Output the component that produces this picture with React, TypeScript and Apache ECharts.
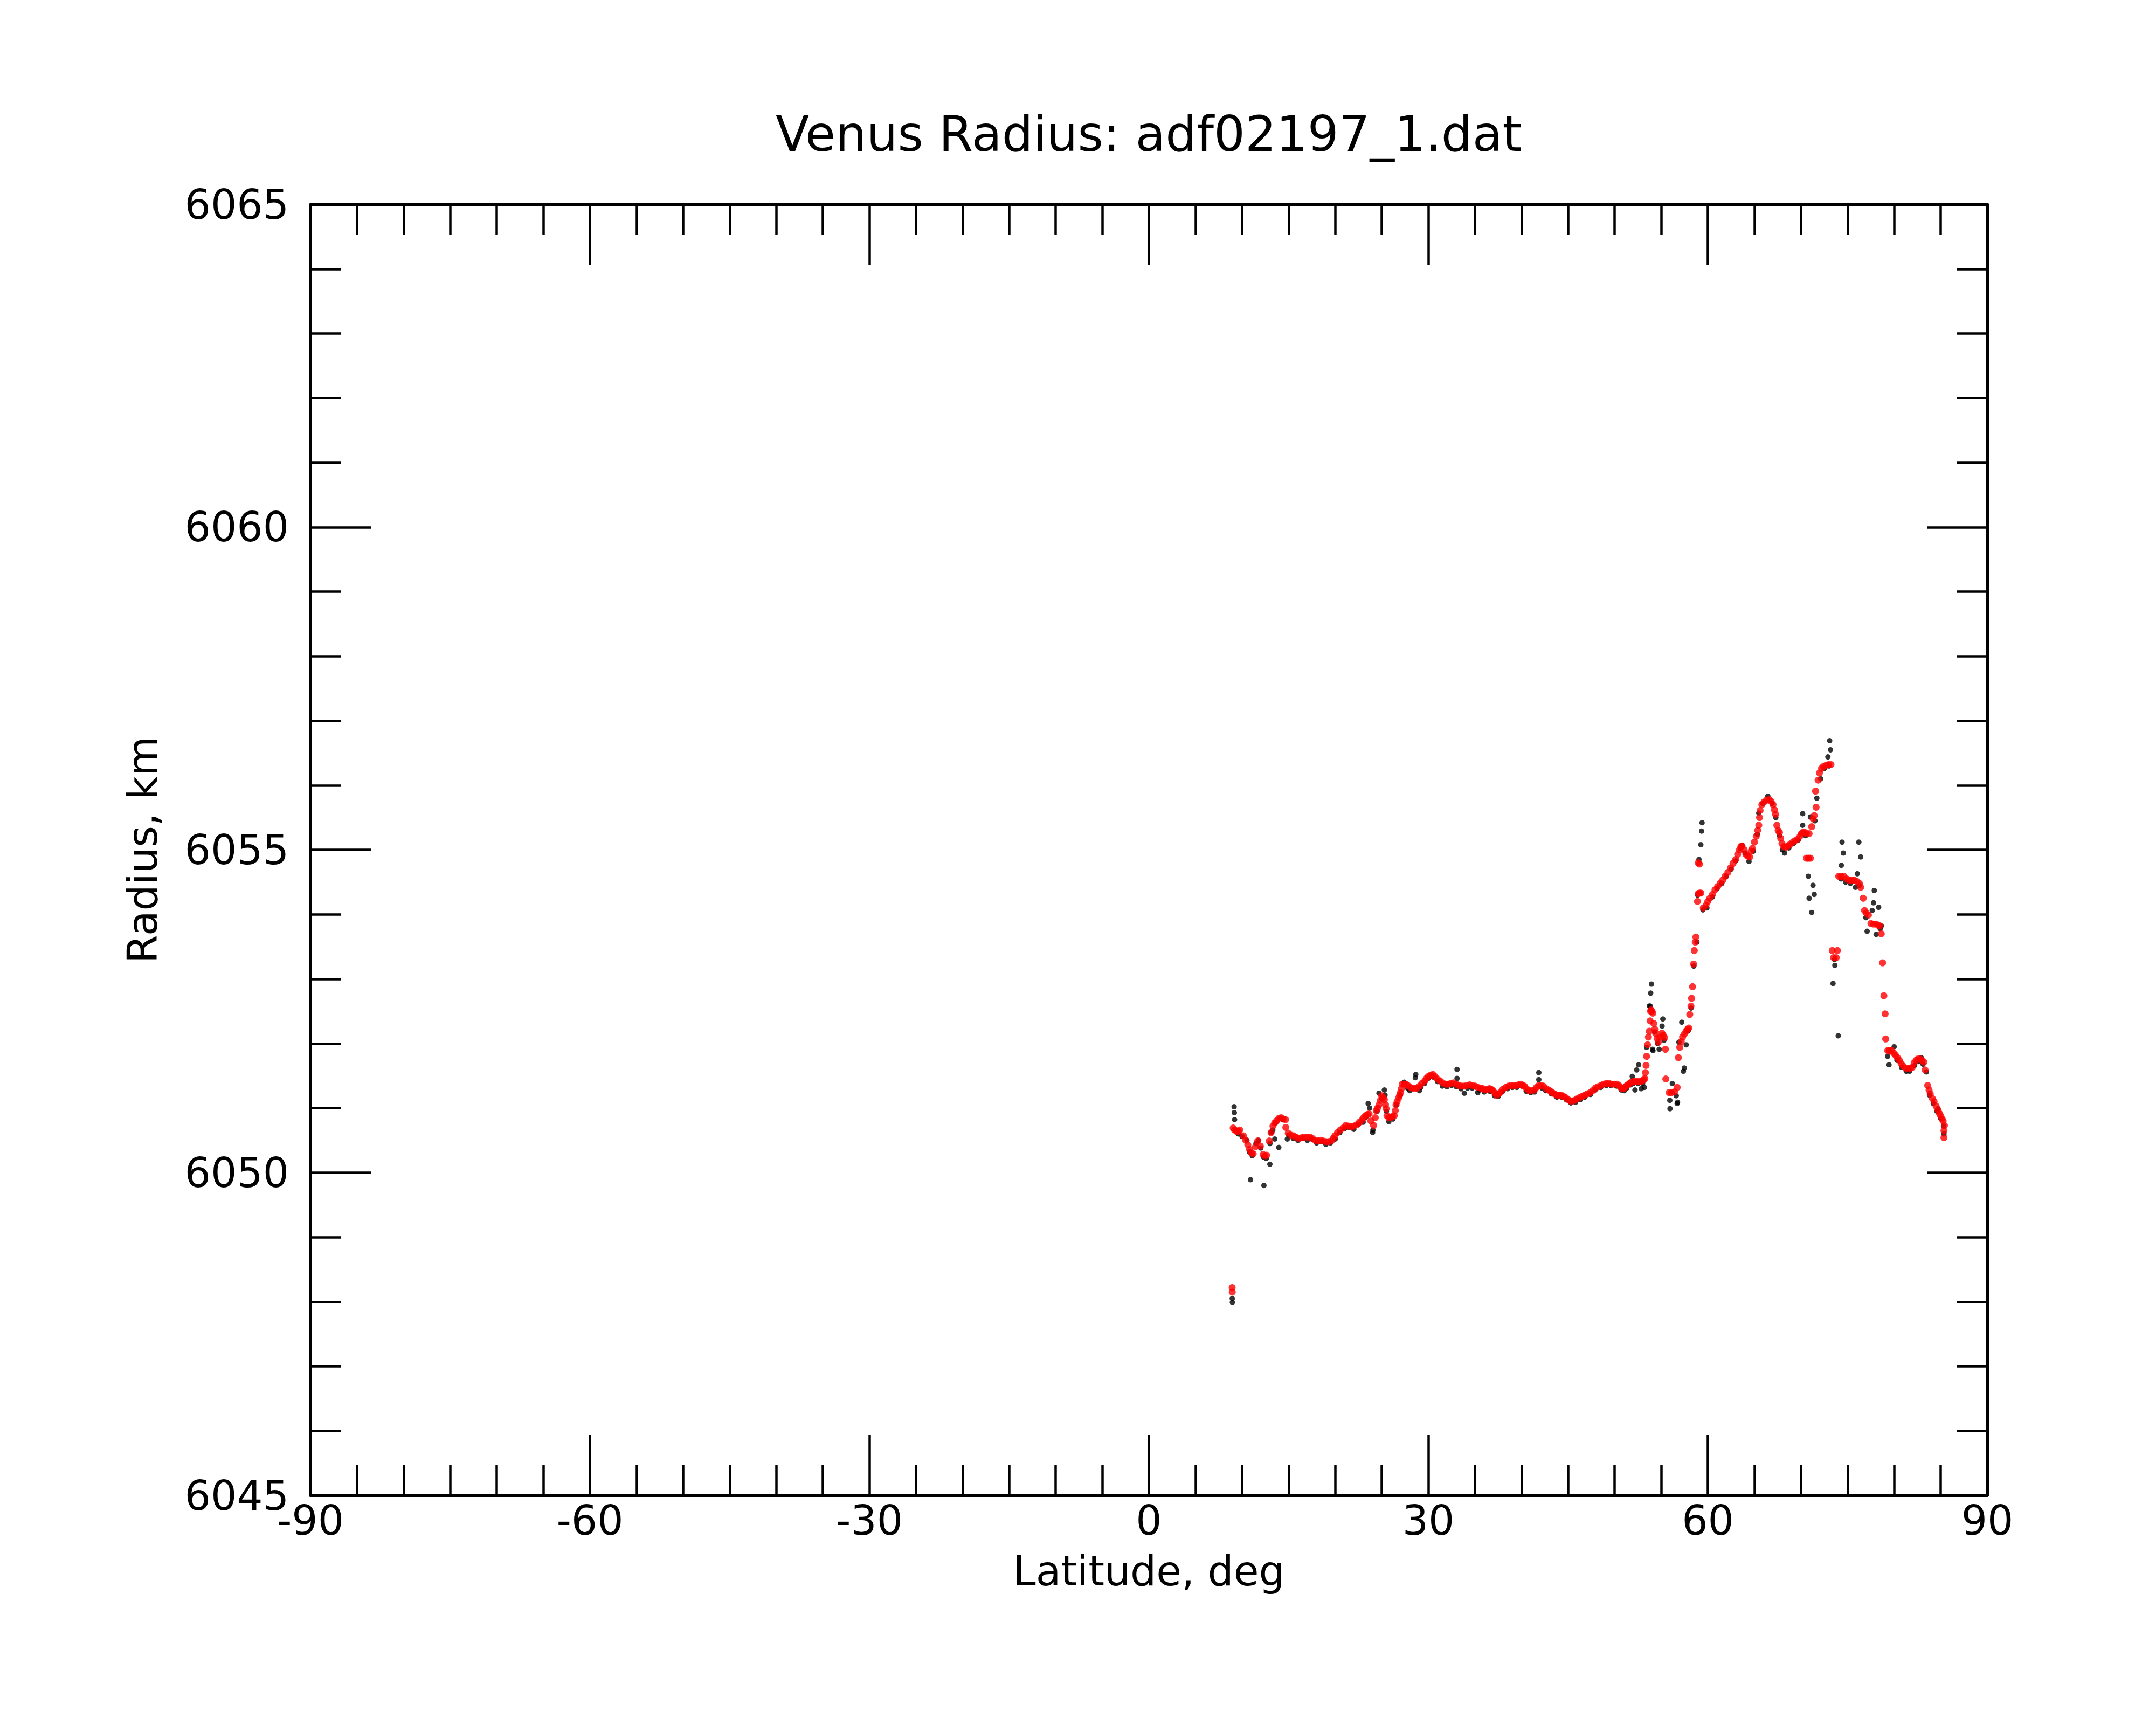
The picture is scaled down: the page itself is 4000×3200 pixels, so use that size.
import React, { useEffect, useRef } from "react";
import * as echarts from "echarts";

const TITLE = "Venus Radius: adf02197_1.dat";
const X_NAME = "Latitude, deg";
const Y_NAME = "Radius, km";
const X_MIN = -90;
const X_MAX = 90;
const X_STEP = 30;
const Y_MIN = 6045;
const Y_MAX = 6065;
const Y_STEP = 5;

// Smoothed profile (red), [latitude deg, radius km]
const redStart = [[8.94, 6048.22], [8.95, 6048.15]];
const redLow = [
  [9.05, 6050.69], [9.2, 6050.66], [9.4, 6050.64], [9.6, 6050.64], [9.75, 6050.66], [10.14, 6050.57],
  [10.4, 6050.5], [10.62, 6050.43], [10.81, 6050.36], [11.0, 6050.31], [11.2, 6050.29], [11.45, 6050.4],
  [11.68, 6050.49], [11.97, 6050.41], [12.26, 6050.28], [12.45, 6050.26], [12.64, 6050.27], [12.93, 6050.49],
  [13.12, 6050.62], [13.32, 6050.72], [13.5, 6050.77], [13.7, 6050.8], [13.95, 6050.84], [14.19, 6050.85],
  [14.4, 6050.83], [14.67, 6050.82], [14.7, 6050.7], [14.96, 6050.61], [15.25, 6050.58], [15.54, 6050.57],
  [15.8, 6050.55], [16.11, 6050.53], [16.4, 6050.54], [16.69, 6050.55], [17.0, 6050.55], [17.27, 6050.55],
  [17.55, 6050.53], [17.85, 6050.5], [18.15, 6050.49], [18.43, 6050.5], [18.7, 6050.49], [19.01, 6050.48],
  [19.3, 6050.48], [19.59, 6050.49], [19.8, 6050.53], [19.97, 6050.57], [20.25, 6050.62], [20.55, 6050.66],
  [20.85, 6050.69], [21.13, 6050.73], [21.4, 6050.72], [21.71, 6050.71], [22.0, 6050.72], [22.29, 6050.74],
  [22.6, 6050.78], [22.87, 6050.81], [23.05, 6050.85], [23.25, 6050.88], [23.45, 6050.9], [23.64, 6050.91],
  [23.83, 6050.8], [24.12, 6050.73], [24.3, 6050.85], [24.41, 6050.96], [24.55, 6051.0], [24.7, 6051.05],
  [24.85, 6051.12], [24.99, 6051.19], [25.15, 6051.16], [25.28, 6051.13], [25.4, 6051.05], [25.47, 6050.99],
  [25.56, 6050.88], [25.75, 6050.85], [25.95, 6050.85], [26.15, 6050.87], [26.34, 6050.88], [26.45, 6050.96],
  [26.53, 6051.05], [26.65, 6051.1], [26.82, 6051.16], [26.92, 6051.2], [27.01, 6051.24], [27.1, 6051.3],
  [27.2, 6051.37], [27.4, 6051.37], [27.59, 6051.37], [27.8, 6051.35], [28.07, 6051.32], [28.3, 6051.31],
  [28.55, 6051.3], [28.8, 6051.31], [29.04, 6051.34], [29.3, 6051.38], [29.61, 6051.42], [29.8, 6051.46],
  [30.0, 6051.49], [30.25, 6051.51], [30.48, 6051.52], [30.7, 6051.49], [30.97, 6051.45], [31.25, 6051.42],
  [31.54, 6051.39], [31.85, 6051.37], [32.12, 6051.37], [32.4, 6051.38], [32.7, 6051.39], [33.0, 6051.37],
  [33.28, 6051.35], [33.57, 6051.34], [33.86, 6051.34], [34.15, 6051.35], [34.44, 6051.36], [34.73, 6051.35],
  [35.02, 6051.34], [35.3, 6051.32], [35.59, 6051.31]
];
const redMid = [
  [35.85, 6051.3], [36.08, 6051.28], [36.3, 6051.29], [36.56, 6051.3], [36.75, 6051.29], [36.95, 6051.27],
  [37.15, 6051.23], [37.33, 6051.2], [37.5, 6051.22], [37.72, 6051.24], [38.0, 6051.29], [38.3, 6051.32],
  [38.6, 6051.34], [38.87, 6051.35], [39.15, 6051.35], [39.45, 6051.35], [39.7, 6051.36], [39.94, 6051.37],
  [40.12, 6051.35], [40.32, 6051.34], [40.55, 6051.3], [40.8, 6051.27], [41.1, 6051.27], [41.38, 6051.28],
  [41.6, 6051.32], [41.86, 6051.35], [42.1, 6051.35], [42.35, 6051.34], [42.65, 6051.3], [42.92, 6051.28],
  [43.1, 6051.26], [43.31, 6051.24], [43.55, 6051.22], [43.79, 6051.2], [44.05, 6051.2], [44.27, 6051.2],
  [44.5, 6051.18], [44.76, 6051.16], [45.0, 6051.13], [45.24, 6051.11], [45.5, 6051.11], [45.72, 6051.12],
  [45.95, 6051.14], [46.2, 6051.16], [46.5, 6051.18], [46.78, 6051.2], [47.05, 6051.22], [47.36, 6051.24],
  [47.65, 6051.27], [47.94, 6051.31], [48.2, 6051.33], [48.52, 6051.35], [48.8, 6051.37], [49.1, 6051.38],
  [49.4, 6051.38], [49.67, 6051.37], [49.95, 6051.37], [50.25, 6051.37], [50.45, 6051.35], [50.64, 6051.32],
  [50.8, 6051.3], [50.93, 6051.3], [51.1, 6051.32], [51.22, 6051.34], [51.4, 6051.36], [51.6, 6051.38],
  [51.8, 6051.4], [51.99, 6051.41], [52.2, 6051.41], [52.37, 6051.41], [52.55, 6051.41], [52.76, 6051.41],
  [52.95, 6051.42], [53.15, 6051.44]
];
const redHigh = [
  [53.24, 6051.46], [53.3, 6051.55], [53.37, 6051.66], [53.43, 6051.8], [53.53, 6051.98], [53.62, 6052.1],
  [53.72, 6052.19], [53.8, 6052.35], [53.85, 6052.5], [53.91, 6052.52], [54.0, 6052.5], [54.1, 6052.47],
  [54.2, 6052.31], [54.3, 6052.22], [54.39, 6052.16], [54.55, 6052.08], [54.68, 6052.02], [54.85, 6052.1],
  [55.07, 6052.16], [55.2, 6052.13], [55.36, 6052.09], [55.45, 6051.91], [55.49, 6051.45], [55.84, 6051.24],
  [56.1, 6051.24], [56.42, 6051.25], [56.71, 6051.32], [56.84, 6051.78], [56.98, 6051.94], [57.15, 6052.03],
  [57.29, 6052.1], [57.5, 6052.15], [57.67, 6052.19], [57.85, 6052.22], [57.96, 6052.24], [58.06, 6052.45],
  [58.19, 6052.58], [58.25, 6052.7], [58.36, 6052.88], [58.47, 6053.23], [58.55, 6053.44], [58.65, 6053.57],
  [58.72, 6053.65], [58.89, 6054.2], [58.97, 6054.32], [59.1, 6054.33], [59.25, 6054.33], [58.97, 6054.8],
  [59.1, 6054.78], [59.52, 6054.1], [59.8, 6054.14], [60.0, 6054.2], [60.21, 6054.25], [60.5, 6054.31],
  [60.77, 6054.38], [61.05, 6054.43], [61.32, 6054.48], [61.6, 6054.53], [61.87, 6054.59], [62.15, 6054.65],
  [62.43, 6054.72], [62.7, 6054.79], [62.98, 6054.85], [63.2, 6054.93], [63.4, 6055.0], [63.55, 6055.05],
  [63.67, 6055.06], [63.9, 6055.0], [64.09, 6054.93], [64.3, 6054.9], [64.5, 6054.89], [64.65, 6054.98],
  [64.78, 6055.02], [65.0, 6055.12], [65.2, 6055.21], [65.35, 6055.3], [65.47, 6055.38], [65.55, 6055.5],
  [65.61, 6055.61], [65.8, 6055.7], [66.03, 6055.74], [66.3, 6055.77], [66.58, 6055.78], [66.8, 6055.75],
  [67.0, 6055.7], [67.15, 6055.62], [67.27, 6055.55], [67.41, 6055.38], [67.55, 6055.3], [67.69, 6055.27],
  [67.82, 6055.18], [67.96, 6055.1], [68.15, 6055.05], [68.38, 6055.04], [68.6, 6055.06], [68.79, 6055.08],
  [69.05, 6055.11], [69.35, 6055.14], [69.6, 6055.16], [69.9, 6055.21], [70.05, 6055.25], [70.18, 6055.27],
  [70.4, 6055.27], [70.59, 6055.25], [70.87, 6055.25], [70.59, 6054.87], [70.8, 6054.87], [71.01, 6054.87],
  [71.15, 6055.36], [71.3, 6055.48], [71.42, 6055.53], [71.56, 6055.91], [71.62, 6055.66], [71.84, 6056.08],
  [71.98, 6056.19], [72.2, 6056.26], [72.39, 6056.29], [72.7, 6056.31], [72.95, 6056.32], [73.22, 6056.32],
  [73.36, 6053.44], [73.5, 6053.33], [73.78, 6053.33], [73.91, 6053.44], [74.05, 6054.59], [74.3, 6054.59],
  [74.61, 6054.59], [74.9, 6054.55], [75.16, 6054.53], [75.45, 6054.53], [75.71, 6054.53], [76.0, 6054.51],
  [76.27, 6054.48], [76.41, 6054.42], [76.68, 6054.25], [76.82, 6054.06], [77.0, 6054.02], [77.24, 6053.99],
  [77.51, 6053.86], [77.8, 6053.85], [78.07, 6053.85], [78.3, 6053.83], [78.48, 6053.82], [78.62, 6053.7],
  [78.76, 6053.25], [78.9, 6052.74], [79.03, 6052.46], [79.09, 6052.07], [79.31, 6051.89], [79.5, 6051.89],
  [79.73, 6051.89], [79.95, 6051.85], [80.14, 6051.82], [80.35, 6051.78], [80.56, 6051.74], [80.75, 6051.69],
  [80.97, 6051.65], [81.25, 6051.62], [81.53, 6051.61], [81.75, 6051.62], [81.94, 6051.63], [82.15, 6051.7],
  [82.36, 6051.74], [82.55, 6051.76], [82.77, 6051.76], [83.0, 6051.74], [83.19, 6051.71], [83.32, 6051.59],
  [83.6, 6051.35], [83.75, 6051.28], [83.88, 6051.22], [84.1, 6051.15], [84.29, 6051.1], [84.5, 6051.03],
  [84.71, 6050.97], [84.85, 6050.92], [84.99, 6050.88], [85.15, 6050.83], [85.26, 6050.8], [85.4, 6050.73],
  [85.35, 6050.65], [85.35, 6050.54]
];

// Raw measurements (black), [latitude deg, radius km]
const blackLow = [
  [8.95, 6048.05], [8.96, 6047.99], [9.15, 6051.02], [9.17, 6050.93], [9.2, 6050.82], [9.35, 6050.66],
  [9.6, 6050.6], [10.0, 6050.56], [10.52, 6050.5], [10.91, 6049.89], [10.8, 6050.32], [11.1, 6050.26],
  [11.5, 6050.45], [11.78, 6050.5], [12.0, 6050.38], [12.35, 6049.8], [12.3, 6050.24], [12.6, 6050.22],
  [12.99, 6050.13], [13.12, 6050.62], [13.0, 6050.45], [13.3, 6050.66], [13.51, 6050.52], [13.6, 6050.77],
  [13.95, 6050.39], [14.1, 6050.84], [14.4, 6050.82], [14.86, 6050.52], [15.0, 6050.58], [15.5, 6050.53],
  [16.0, 6050.5], [16.5, 6050.53], [17.0, 6050.5], [17.5, 6050.52], [18.0, 6050.46], [18.5, 6050.48],
  [19.0, 6050.44], [19.5, 6050.46], [20.0, 6050.52], [20.5, 6050.62], [21.0, 6050.68], [21.5, 6050.7],
  [22.0, 6050.67], [22.5, 6050.75], [23.0, 6050.78], [23.3, 6050.86], [23.54, 6051.07], [23.7, 6051.0],
  [24.02, 6050.62], [24.05, 6050.66], [24.5, 6050.95], [24.7, 6051.23], [25.0, 6051.15], [25.28, 6051.28],
  [25.35, 6051.2], [25.5, 6050.95], [25.76, 6050.79], [26.2, 6050.83], [26.6, 6051.05], [27.0, 6051.2],
  [27.4, 6051.4], [27.8, 6051.3], [28.0, 6051.27], [28.65, 6051.52], [28.6, 6051.47], [29.04, 6051.27],
  [29.2, 6051.32], [29.6, 6051.38], [30.0, 6051.46], [30.5, 6051.48], [31.0, 6051.41], [31.5, 6051.34],
  [32.0, 6051.33], [32.5, 6051.35], [33.08, 6051.6], [33.08, 6051.46], [33.0, 6051.33], [33.5, 6051.3],
  [33.86, 6051.23], [34.2, 6051.31], [34.7, 6051.31], [35.3, 6051.24], [35.5, 6051.28]
];
const blackMid = [
  [36.0, 6051.25], [36.6, 6051.26], [37.1, 6051.19], [37.5, 6051.18], [38.0, 6051.26], [38.5, 6051.3],
  [39.0, 6051.32], [39.5, 6051.32], [40.0, 6051.34], [40.5, 6051.26], [41.0, 6051.24], [41.4, 6051.25],
  [41.86, 6051.55], [41.86, 6051.44], [42.2, 6051.31], [42.6, 6051.27], [43.2, 6051.22], [43.8, 6051.17],
  [44.3, 6051.17], [44.8, 6051.13], [45.3, 6051.08], [45.8, 6051.09], [46.3, 6051.13], [46.8, 6051.17],
  [47.4, 6051.21], [47.9, 6051.28], [48.5, 6051.32], [49.1, 6051.35], [49.6, 6051.35], [50.2, 6051.34],
  [50.7, 6051.28], [51.03, 6051.27], [51.3, 6051.31], [51.7, 6051.36], [51.89, 6051.49], [52.0, 6051.38],
  [52.18, 6051.28], [52.37, 6051.59], [52.57, 6051.67], [52.5, 6051.38], [52.86, 6051.3], [53.0, 6051.38],
  [53.18, 6051.32]
];
const blackHigh = [
  [53.43, 6051.94], [53.72, 6052.58], [53.81, 6052.58], [53.87, 6052.78], [53.95, 6052.92], [54.07, 6051.91],
  [54.11, 6051.89], [54.3, 6052.18], [54.6, 6052.0], [54.78, 6051.91], [55.09, 6052.27], [55.17, 6052.38],
  [55.3, 6052.05], [55.92, 6051.12], [55.94, 6050.99], [56.19, 6051.38], [56.61, 6051.19], [56.71, 6051.07],
  [56.75, 6051.09], [56.9, 6052.02], [57.2, 6052.33], [57.38, 6051.57], [57.48, 6051.62], [57.68, 6051.98],
  [57.9, 6052.2], [58.2, 6052.55], [58.5, 6053.2], [58.83, 6053.57], [58.9, 6054.3], [59.05, 6054.85],
  [59.25, 6055.08], [59.33, 6055.29], [59.38, 6055.42], [59.47, 6054.07], [59.9, 6054.1], [60.5, 6054.27],
  [61.0, 6054.4], [61.5, 6054.48], [62.0, 6054.59], [62.5, 6054.7], [63.0, 6054.83], [63.5, 6055.02],
  [63.67, 6055.07], [64.0, 6054.95], [64.42, 6054.82], [64.9, 6054.98], [65.3, 6055.24], [65.47, 6055.57],
  [65.9, 6055.72], [66.44, 6055.83], [66.9, 6055.72], [67.3, 6055.5], [67.7, 6055.22], [68.0, 6055.0],
  [68.24, 6054.95], [68.7, 6055.03], [69.2, 6055.1], [69.7, 6055.15], [70.18, 6055.56], [70.18, 6055.38],
  [70.5, 6055.22], [71.01, 6055.51], [70.79, 6054.59], [71.29, 6054.45], [71.42, 6054.31], [70.87, 6054.25],
  [71.15, 6054.03], [71.5, 6055.45], [71.7, 6055.8], [72.11, 6056.1], [72.5, 6056.26], [72.89, 6056.44],
  [73.08, 6056.69], [73.17, 6056.55], [73.0, 6056.3], [73.44, 6052.93], [73.64, 6053.21], [73.6, 6053.3],
  [74.0, 6052.12], [74.33, 6054.76], [74.41, 6055.12], [74.55, 6054.95], [74.3, 6054.55], [74.8, 6054.5],
  [75.3, 6054.48], [75.85, 6054.42], [76.05, 6054.63], [76.21, 6055.12], [76.41, 6054.89], [76.3, 6054.45],
  [76.96, 6053.95], [77.1, 6053.74], [77.65, 6054.06], [77.79, 6054.18], [77.87, 6054.37], [78.07, 6053.69],
  [78.34, 6054.11], [78.62, 6053.82], [78.5, 6053.78], [79.45, 6051.67], [79.3, 6051.8], [80.0, 6051.95],
  [80.3, 6051.74], [80.8, 6051.63], [81.3, 6051.57], [81.66, 6051.57], [82.2, 6051.66], [82.6, 6051.72],
  [82.91, 6051.78], [83.1, 6051.68], [83.46, 6051.56], [83.8, 6051.2], [84.2, 6051.07], [84.71, 6050.99],
  [84.6, 6050.95], [85.0, 6050.84], [85.3, 6050.72], [85.35, 6050.6]
];

const FONT = "DejaVu Sans";
const AXIS_COLOR = "#000000";

function axisCommon(showLabel: boolean) {
  return {
    type: "value" as const,
    axisLine: { show: true, onZero: false, lineStyle: { color: AXIS_COLOR, width: 5 } },
    axisTick: { show: true, inside: true, length: 112, lineStyle: { color: AXIS_COLOR, width: 4.5 } },
    minorTick: { show: true, length: 57, lineStyle: { color: AXIS_COLOR, width: 4.5 } },
    splitLine: { show: false },
    minorSplitLine: { show: false },
    axisLabel: {
      show: showLabel,
      color: "#000",
      fontFamily: FONT,
      fontSize: 76,
      lineHeight: 60,
      formatter: (v: number) => String(v),
    },
  };
}

export default function App() {
  const ref = useRef<HTMLDivElement>(null);

  useEffect(() => {
    if (!ref.current) return;
    const chart = echarts.init(ref.current, null, { renderer: "svg" });
    const xBase = { min: X_MIN, max: X_MAX, interval: X_STEP };
    const yBase = { min: Y_MIN, max: Y_MAX, interval: Y_STEP };
    const xa = axisCommon(true);
    const xt = axisCommon(false);
    const ya = axisCommon(true);
    const yr = axisCommon(false);
    chart.setOption({
      animation: false,
      backgroundColor: "#ffffff",
      title: {
        text: TITLE,
        left: 2131,
        top: 203,
        textAlign: "center",
        padding: 0,
        textStyle: { fontFamily: FONT, fontSize: 91, fontWeight: "normal", color: "#000" },
      },
      grid: { left: 576, right: 313, top: 379, bottom: 426, containLabel: false, outerBoundsMode: "none" },
      xAxis: [
        {
          ...xa,
          ...xBase,
          position: "bottom",
          minorTick: { ...xa.minorTick, splitNumber: 6 },
          axisLabel: { ...xa.axisLabel, margin: 16 },
          name: X_NAME,
          nameLocation: "middle",
          nameGap: 110,
          nameMoveOverlap: false,
          nameTextStyle: { fontFamily: FONT, fontSize: 76, lineHeight: 60, color: "#000" },
        },
        {
          ...xt,
          ...xBase,
          position: "top",
          minorTick: { ...xt.minorTick, splitNumber: 6 },
        },
      ],
      yAxis: [
        {
          ...ya,
          ...yBase,
          position: "left",
          minorTick: { ...ya.minorTick, splitNumber: 5 },
          axisLabel: { ...ya.axisLabel, margin: 40 },
          name: Y_NAME,
          nameLocation: "middle",
          nameGap: 274,
          nameMoveOverlap: false,
          nameTextStyle: { fontFamily: FONT, fontSize: 76, color: "#000" },
        },
        {
          ...yr,
          ...yBase,
          position: "right",
          minorTick: { ...yr.minorTick, splitNumber: 5 },
        },
      ],
      series: [
        {
          type: "scatter",
          name: "raw",
          xAxisIndex: 0,
          yAxisIndex: 0,
          data: [...blackLow, ...blackMid, ...blackHigh],
          symbol: "circle",
          symbolSize: 10,
          itemStyle: { color: "#000000" },
          silent: true,
          z: 2,
        },
        {
          type: "scatter",
          name: "smoothed",
          xAxisIndex: 0,
          yAxisIndex: 0,
          data: [...redStart, ...redLow, ...redMid, ...redHigh],
          symbol: "circle",
          symbolSize: 13,
          itemStyle: { color: "#ff0000" },
          silent: true,
          z: 3,
        },
      ],
    });
    return () => chart.dispose();
  }, []);

  return (
    <div
      ref={ref}
      style={{ position: "absolute", left: 0, top: 0, width: 4000, height: 3200, background: "#fff" }}
    />
  );
}
